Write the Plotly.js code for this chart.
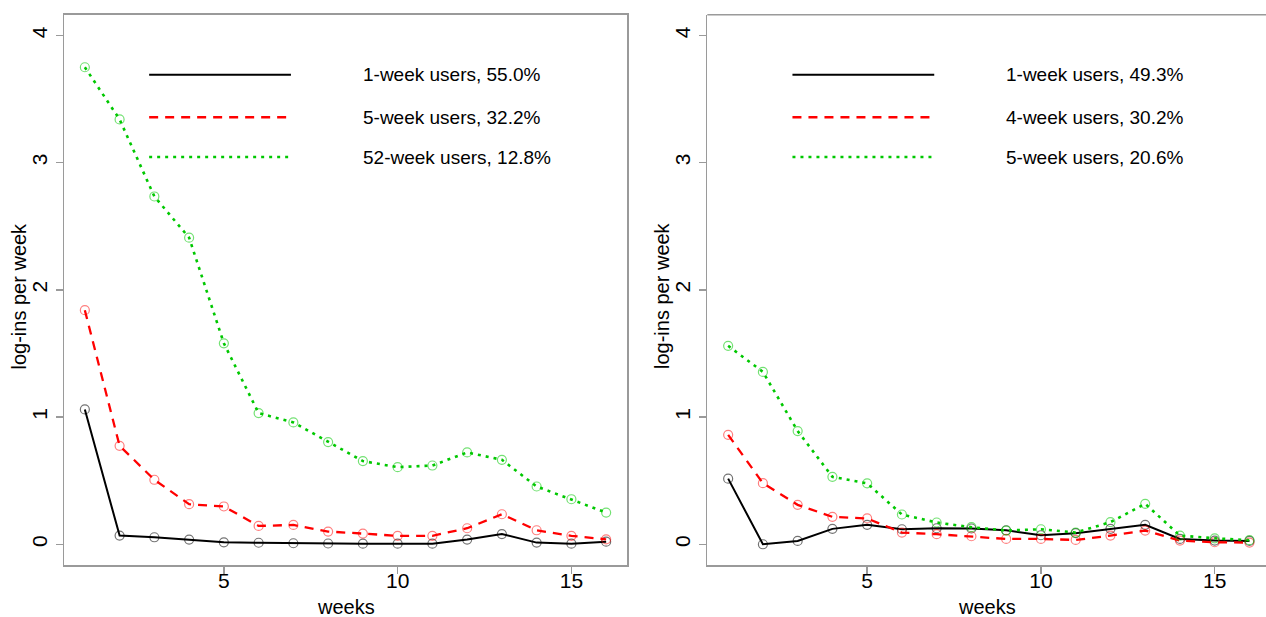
<!DOCTYPE html>
<html>
<head>
<meta charset="utf-8">
<script src="https://cdn.plot.ly/plotly-3.0.1.min.js"></script>
<style>html,body{margin:0;padding:0;background:#fff;}#chart{width:1266px;height:617px;}</style>
</head>
<body>
<div id="chart"></div>
<script>
// ---- data ----
var weeks = [1,2,3,4,5,6,7,8,9,10,11,12,13,14,15,16];

var leftNames = ["1-week users, 55.0%", "5-week users, 32.2%", "52-week users, 12.8%"];
var leftOneWeek   = [1.06,0.068,0.055,0.037,0.015,0.012,0.008,0.006,0.005,0.005,0.005,0.037,0.08,0.013,0.005,0.02];
var leftFiveWeek  = [1.84,0.774,0.507,0.315,0.297,0.144,0.152,0.10,0.084,0.066,0.066,0.126,0.236,0.11,0.066,0.039];
var leftFiftyTwo  = [3.75,3.34,2.734,2.41,1.58,1.031,0.958,0.803,0.654,0.606,0.619,0.722,0.664,0.454,0.354,0.249];

var rightNames = ["1-week users, 49.3%", "4-week users, 30.2%", "5-week users, 20.6%"];
var rightOneWeek  = [0.516,0.0,0.026,0.121,0.153,0.118,0.126,0.124,0.11,0.071,0.087,0.121,0.153,0.042,0.029,0.026];
var rightFourWeek = [0.86,0.48,0.31,0.216,0.203,0.092,0.079,0.063,0.042,0.042,0.034,0.068,0.108,0.029,0.016,0.013];
var rightFiveWeek = [1.56,1.355,0.89,0.53,0.479,0.234,0.171,0.134,0.108,0.118,0.092,0.174,0.318,0.068,0.047,0.032];

var xTicks = [5,10,15];
var yTicks = [0,1,2,3,4];
var xTitle = "weeks";
var yTitle = "log-ins per week";

// ---- styles ----
var styles = [
  {color:"#000000", mcol:"rgba(0,0,0,0.55)",   dash:"solid",     width:2},
  {color:"#ff0000", mcol:"rgba(255,0,0,0.5)",  dash:"9px,7px",   width:2.3},
  {color:"#00c800", mcol:"rgba(0,200,0,0.55)", dash:"3px,5px",   width:2.6}
];
var FONT = "Liberation Sans, Arial, sans-serif";

function mk(y, i, xa, ya, name) {
  var s = styles[i];
  return {
    x: weeks, y: y, xaxis: xa, yaxis: ya, name: name, showlegend:false,
    mode: "lines+markers", type:"scatter",
    line: {color: s.color, dash: s.dash, width: s.width},
    marker: {symbol: "circle-open", size: 9, color: s.mcol, line:{width:1.2, color:s.mcol}}
  };
}

var traces = [
  mk(leftOneWeek, 0, "x", "y", leftNames[0]),
  mk(leftFiveWeek, 1, "x", "y", leftNames[1]),
  mk(leftFiftyTwo, 2, "x", "y", leftNames[2]),
  mk(rightOneWeek, 0, "x2", "y2", rightNames[0]),
  mk(rightFourWeek, 1, "x2", "y2", rightNames[1]),
  mk(rightFiveWeek, 2, "x2", "y2", rightNames[2]),
  // empty traces that only bind the label-only x axes
  {x:[], y:[], xaxis:"x3", yaxis:"y", type:"scatter", mode:"lines", showlegend:false, hoverinfo:"skip"},
  {x:[], y:[], xaxis:"x4", yaxis:"y2", type:"scatter", mode:"lines", showlegend:false, hoverinfo:"skip"}
];

var W = 1266, H = 617;

// legend (R-style, inside plot, data coords)
var legX0 = 2.85, legX1 = 6.93, legTextX = 8.95;
var legY = [3.69, 3.357, 3.044];
var shapes = [], annotations = [];
[["x","y",leftNames],["x2","y2",rightNames]].forEach(function(p){
  for (var i=0;i<3;i++){
    shapes.push({type:"line", xref:p[0], yref:p[1], x0:legX0, x1:legX1, y0:legY[i], y1:legY[i],
      line:{color:styles[i].color, width:styles[i].width, dash:styles[i].dash}});
    annotations.push({xref:p[0], yref:p[1], x:legTextX, y:legY[i], text:p[2][i], showarrow:false,
      xanchor:"left", yanchor:"middle", font:{family:FONT, size:19, color:"#000"}});
  }
});
// axis titles (R-style positions)
[["x","y"],["x2","y2"]].forEach(function(p){
  annotations.push({xref:p[0]+" domain", yref:"paper", x:0.5, y:1-607/H, text:xTitle, showarrow:false,
    xanchor:"center", yanchor:"middle", font:{family:FONT, size:20, color:"#000"}});
});
annotations.push({xref:"paper", yref:"paper", x:18.5/W, y:1-296/H, text:yTitle, textangle:-90, showarrow:false,
  xanchor:"center", yanchor:"middle", font:{family:FONT, size:20, color:"#000"}});
annotations.push({xref:"paper", yref:"paper", x:662/W, y:1-296/H, text:yTitle, textangle:-90, showarrow:false,
  xanchor:"center", yanchor:"middle", font:{family:FONT, size:20, color:"#000"}});
// top border of right panel (its right border is cut off by the image edge)
shapes.push({type:"line", xref:"x2 domain", yref:"y2 domain", x0:0, x1:1, y0:1, y1:1,
  line:{color:"#9a9a9a", width:1.5}});

var yDom = [1-565/H, 1-14.7/H];
var rightRange = [0.4, 0.4 + (W-707.3)/((627-64)/16.2)];

function xax(domain, mirror, range, anchor){
  return {domain: domain, range:range, anchor:anchor, tickvals:xTicks, ticktext:xTicks.map(String),
    showgrid:false, zeroline:false, showline:true, mirror:mirror, linecolor:"#9a9a9a", linewidth:1.5,
    ticks:"outside", ticklen:7, tickcolor:"#9a9a9a", tickwidth:1.5,
    showticklabels:false,
    automargin:false, fixedrange:true};
}
// label-only axes overlaid on the tick axes (R places labels tight under the ticks)
function xlab(domain, range, over){
  return {domain: domain, range:range, overlaying:over, anchor:"free", position:yDom[0] - 1/H,
    tickvals:xTicks, ticktext:xTicks.map(String),
    showgrid:false, zeroline:false, showline:false, ticks:"",
    tickfont:{family:FONT, size:21, color:"#000"},
    automargin:false, fixedrange:true};
}
function yax(anchor, mirror){
  return {domain:yDom, anchor:anchor, range:[-0.163,4.163], tickvals:yTicks, ticktext:yTicks.map(String),
    tickangle:-90,
    showgrid:false, zeroline:false, showline:true, mirror:mirror, linecolor:"#9a9a9a", linewidth:1.5,
    ticks:"outside", ticklen:7, tickcolor:"#9a9a9a", tickwidth:1.5,
    tickfont:{family:FONT, size:21, color:"#000"},
    automargin:false, fixedrange:true};
}

var d1 = [64/W, 627/W], d2 = [707.3/W, 1];

var layout = {
  width: W, height: H,
  margin:{l:0, r:0, t:0, b:0},
  paper_bgcolor:"#fff", plot_bgcolor:"#fff",
  font:{family:FONT, size:19, color:"#000"},
  showlegend:false,
  xaxis: xax(d1, true, [0.4,16.6], "y"),
  yaxis: yax("x", true),
  xaxis2: xax(d2, false, rightRange, "y2"),
  yaxis2: yax("x2", false),
  xaxis3: xlab(d1, [0.4,16.6], "x"),
  xaxis4: xlab(d2, rightRange, "x2"),
  shapes: shapes,
  annotations: annotations
};

Plotly.newPlot("chart", traces, layout, {displayModeBar:false, staticPlot:true});
</script>
</body>
</html>
